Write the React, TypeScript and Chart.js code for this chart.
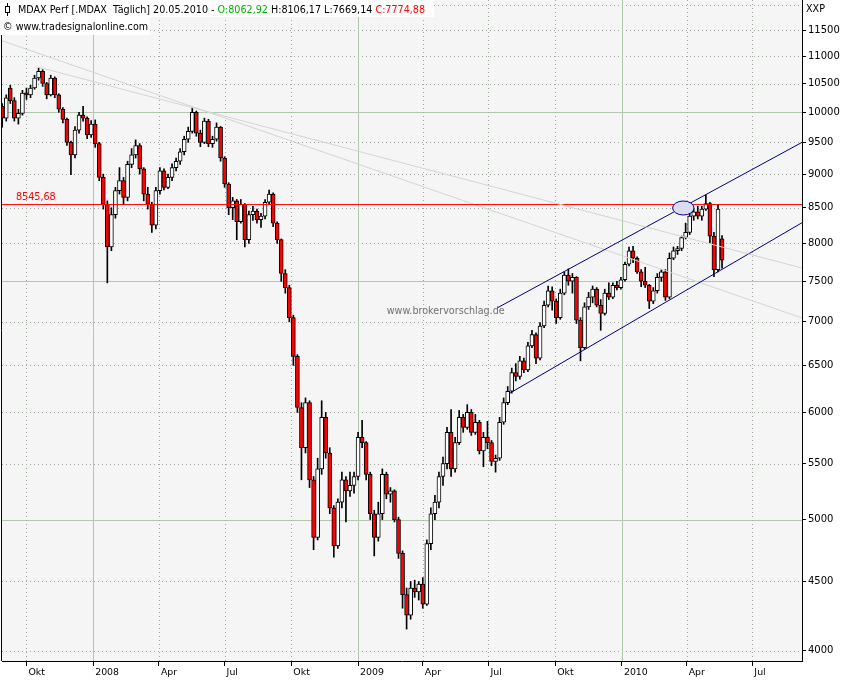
import React, { useEffect, useRef } from 'react';
import { Chart, registerables } from 'chart.js';

Chart.register(...registerables);

// ---------- calendar helpers (weekday index, 0 = Mon 2007-08-27) ----------
const FIRST_WEEKDAY_UTC = Date.UTC(2007, 7, 27);
function dayIndex(date: string): number {
  const [y, m, d] = date.split('-').map(Number);
  const days = Math.round((Date.UTC(y, m - 1, d) - FIRST_WEEKDAY_UTC) / 86400000);
  const weeks = Math.floor(days / 7);
  const rem = days - weeks * 7;
  return weeks * 5 + Math.min(rem, 5);
}

// ---------- data ----------
const CANDLE_START = '2007-08-28';
const DAYS_PER_CANDLE = 4;
const LAST_DATE = '20.05.2010';

const OPEN = [
  10100, 9900, 10420, 10200, 9900, 9980, 10330, 10300, 10420, 10600,
  10720, 10500, 10300, 10600, 10300, 10050, 9880, 9500, 9300, 9700,
  9950, 9900, 9620, 9800, 9480, 8950, 8550, 7950, 8400, 8750,
  8900, 8650, 9150, 9300, 9450, 9080, 8700, 8550, 8250, 8750,
  9050, 8800, 8950, 9100, 9200, 9350, 9550, 9680, 10000, 9650,
  9500, 9850, 9480, 9550, 9750, 9250, 8850, 8500, 8600, 8300,
  8550, 8050, 8400, 8450, 8330, 8380, 8580, 8700, 8280, 8050,
  7600, 7420, 7050, 6600, 6050, 5650, 6100, 5350, 4850, 5450,
  5950, 5600, 5100, 4780, 5150, 5350, 5250, 5300, 5380, 5750,
  5700, 5400, 5050, 4850, 5050, 5400, 5220, 5250, 5000, 4720,
  4400, 4250, 4450, 4420, 4480, 4330, 4800, 5050, 5150, 5380,
  5500, 5800, 5450, 5700, 5950, 5850, 6000, 5800, 5900, 5620,
  5750, 5700, 5520, 5550, 5900, 6100, 6220, 6420, 6380, 6550,
  6450, 6720, 6850, 6580, 6950, 7200, 7380, 7250, 7050, 7350,
  7580, 7500, 7550, 7020, 6700, 7180, 7300, 7400, 7200, 7100,
  7350, 7300, 7450, 7420, 7520, 7720, 7900, 7800, 7620, 7500,
  7450, 7250, 7380, 7550, 7620, 7300, 7800, 7900, 7930, 8080,
  8150, 8380, 8440, 8380, 8480, 8560, 8100, 7650, 8062.92,
];
const HIGH = [
  10150, 10300, 10470, 10250, 10050, 10380, 10420, 10470, 10650, 10780,
  10750, 10520, 10650, 10620, 10320, 10080, 9900, 9520, 9760, 10000,
  10100, 9920, 9860, 9870, 9500, 9000, 8600, 8500, 8800, 9100,
  8950, 9200, 9400, 9540, 9480, 9100, 8800, 8580, 8800, 9100,
  9080, 9000, 9160, 9250, 9400, 9600, 9750, 10070, 10020, 9700,
  9900, 9880, 9600, 9820, 9760, 9270, 8870, 8650, 8620, 8620,
  8560, 8450, 8520, 8480, 8420, 8620, 8760, 8720, 8300, 8060,
  7650, 7450, 7080, 6620, 6100, 6150, 6120, 5380, 5550, 6120,
  6000, 5650, 5120, 5180, 5420, 5380, 5420, 5420, 5800, 5920,
  5710, 5420, 5080, 5150, 5450, 5420, 5280, 5260, 5020, 4740,
  4450, 4500, 4510, 4500, 4530, 4830, 5100, 5210, 5420, 5560,
  5850, 6030, 5750, 6020, 5980, 6080, 6030, 5980, 5920, 5800,
  5910, 5720, 5580, 5950, 6150, 6270, 6470, 6520, 6600, 6580,
  6760, 6900, 6870, 6990, 7250, 7440, 7430, 7280, 7400, 7620,
  7660, 7600, 7560, 7050, 7230, 7360, 7440, 7420, 7270, 7400,
  7480, 7480, 7500, 7550, 7750, 7950, 7960, 7820, 7650, 7680,
  7460, 7420, 7600, 7650, 7650, 7870, 7950, 7960, 8100, 8280,
  8420, 8480, 8520, 8520, 8690, 8580, 8150, 8550, 8106.17,
];
const LOW = [
  9750, 9850, 10150, 9850, 9800, 9950, 10220, 10250, 10400, 10560,
  10450, 10230, 10280, 10250, 10000, 9820, 9450, 8990, 9250, 9650,
  9850, 9560, 9580, 9420, 8900, 8480, 7480, 7900, 8350, 8700,
  8550, 8600, 9100, 9250, 9000, 8600, 8480, 8150, 8200, 8700,
  8760, 8780, 8900, 9050, 9150, 9300, 9500, 9650, 9600, 9430,
  9480, 9430, 9420, 9520, 9200, 8800, 8400, 8330, 8050, 8280,
  7950, 8000, 8320, 8280, 8220, 8340, 8550, 8230, 8000, 7500,
  7350, 7000, 6500, 6000, 5350, 5600, 5280, 4750, 4830, 5400,
  5550, 5050, 4690, 4760, 5100, 4980, 5200, 5230, 5350, 5650,
  5350, 5000, 4700, 4820, 5000, 5180, 5150, 4980, 4680, 4300,
  4150, 4220, 4380, 4360, 4300, 4320, 4750, 5000, 5100, 5300,
  5450, 5380, 5420, 5680, 5800, 5830, 5770, 5780, 5590, 5470,
  5640, 5480, 5420, 5530, 5880, 6080, 6200, 6330, 6350, 6420,
  6430, 6700, 6520, 6560, 6930, 7180, 7140, 6980, 7030, 7330,
  7450, 7350, 6980, 6550, 6680, 7150, 7230, 7180, 6900, 7080,
  7270, 7280, 7390, 7400, 7500, 7700, 7740, 7600, 7430, 7420,
  7160, 7220, 7350, 7500, 7260, 7280, 7780, 7850, 7900, 8060,
  8120, 8320, 8340, 8320, 8460, 8010, 7560, 7620, 7669.14,
];
const CLOSE = [
  9900, 10250, 10200, 9900, 9980, 10330, 10300, 10420, 10600, 10720,
  10500, 10300, 10600, 10300, 10050, 9880, 9500, 9300, 9700, 9950,
  9900, 9620, 9800, 9480, 8950, 8550, 7950, 8400, 8750, 8900,
  8650, 9150, 9300, 9450, 9080, 8700, 8550, 8250, 8750, 9050,
  8800, 8950, 9100, 9200, 9350, 9550, 9680, 10000, 9650, 9500,
  9850, 9480, 9550, 9750, 9250, 8850, 8500, 8600, 8300, 8550,
  8050, 8400, 8450, 8330, 8380, 8580, 8700, 8280, 8050, 7600,
  7420, 7050, 6600, 6050, 5650, 6100, 5350, 4850, 5450, 5950,
  5600, 5100, 4780, 5150, 5350, 5250, 5300, 5380, 5750, 5700,
  5400, 5050, 4850, 5050, 5400, 5220, 5250, 5000, 4720, 4400,
  4250, 4450, 4420, 4480, 4330, 4800, 5050, 5150, 5380, 5500,
  5800, 5450, 5700, 5950, 5850, 6000, 5800, 5900, 5620, 5750,
  5700, 5520, 5550, 5900, 6100, 6220, 6420, 6380, 6550, 6450,
  6720, 6850, 6580, 6950, 7200, 7380, 7250, 7050, 7350, 7580,
  7500, 7550, 7020, 6700, 7180, 7300, 7400, 7200, 7100, 7350,
  7300, 7450, 7420, 7520, 7720, 7900, 7800, 7620, 7500, 7450,
  7250, 7380, 7550, 7620, 7300, 7800, 7900, 7930, 8080, 8150,
  8380, 8440, 8380, 8480, 8560, 8100, 7650, 8480, 7774.88,
];

const X_TICK_DATES = [
  '2007-10-01', '2008-01-01', '2008-04-01', '2008-07-01', '2008-10-01', '2009-01-01',
  '2009-04-01', '2009-07-01', '2009-10-01', '2010-01-01', '2010-04-01', '2010-07-01',
];
const X_TICK_LABELS = ['Okt', '2008', 'Apr', 'Jul', 'Okt', '2009', 'Apr', 'Jul', 'Okt', '2010', 'Apr', 'Jul'];
const X_YEAR_LABELS = ['2008', '2009', '2010'];

const Y_TICKS = [4000, 4500, 5000, 5500, 6000, 6500, 7000, 7500, 8000, 8500, 9000, 9500, 10000, 10500, 11000, 11500];
const Y_GRID = [4000, 4500, 5000, 5500, 6000, 6500, 7000, 7500, 8000, 8500, 9000, 9500, 10000, 10500, 11000, 11500, 12000];
const Y_MAJOR = [5000, 7500, 10000];

// axis range (weekday index / price)
const X_MIN = 0.8;
const X_MAX = 792.1;
const Y_MIN = 3930.5;
const Y_MAX = 12104;

// drawn studies
const RESISTANCE = 8545.68;
const CHANNEL_UPPER_X = [490.4, X_MAX];
const CHANNEL_UPPER_Y = [7166, 9500];
const CHANNEL_LOWER_X = [503.3, X_MAX];
const CHANNEL_LOWER_Y = [6201, 8286];
const TREND_PEAK_X = [36.4, X_MAX];
const TREND_PEAK_Y = [10799, 7671];
const TREND_LONG_X = [-1.2, X_MAX];
const TREND_LONG_Y = [11307, 7046];
const ELLIPSE_X = 674.7;
const ELLIPSE_Y = 8496;
const WATERMARK_X = 381.3;
const WATERMARK_Y = 7130;

const FONT = '"DejaVu Sans", Verdana, sans-serif';
const fmt = (v: number) => v.toFixed(2).replace('.', ',');

const pts = (xs: number[], ys: number[]) => xs.map((x, i) => ({ x, y: ys[i] }));

export default function App() {
  const ref = useRef<HTMLCanvasElement | null>(null);

  useEffect(() => {
    const canvas = ref.current;
    if (!canvas) return;
    const start = dayIndex(CANDLE_START);
    const xs = CLOSE.map((_, i) => start + i * DAYS_PER_CANDLE);
    const bodies = xs.map((x, i) => ({ x, y: [OPEN[i], CLOSE[i]] }));
    const wicks = xs.map((x, i) => ({ x, y: [LOW[i], HIGH[i]] }));
    const bodyColors = xs.map((_, i) => (CLOSE[i] >= OPEN[i] ? '#ffffff' : '#ff0000'));
    const tickIdx = X_TICK_DATES.map(dayIndex);

    const decor = {
      id: 'decor',
      beforeDraw(chart: any) {
        const { ctx, chartArea: a } = chart;
        ctx.save();
        ctx.fillStyle = '#f5f5f5';
        ctx.fillRect(a.left, a.top, a.right - a.left, a.bottom - a.top);
        ctx.restore();
      },
      beforeDatasetsDraw(chart: any) {
        const { ctx, chartArea: a, scales } = chart;
        const x = scales.x, y = scales.y;
        ctx.save();
        ctx.lineWidth = 1;
        Y_GRID.forEach((v) => {
          const py = Math.round(y.getPixelForValue(v)) + 0.5;
          if (Y_MAJOR.includes(v)) {
            ctx.setLineDash([]);
            ctx.strokeStyle = '#b2c8ae';
          } else {
            ctx.setLineDash([1, 3]);
            ctx.strokeStyle = '#9eaa9e';
          }
          ctx.beginPath();
          ctx.moveTo(a.left, py);
          ctx.lineTo(a.right, py);
          ctx.stroke();
        });
        tickIdx.forEach((v, i) => {
          const px = Math.round(x.getPixelForValue(v)) + 0.5;
          if (X_YEAR_LABELS.includes(X_TICK_LABELS[i])) {
            ctx.setLineDash([]);
            ctx.strokeStyle = '#b2c8ae';
          } else {
            ctx.setLineDash([1, 3]);
            ctx.strokeStyle = '#9eaa9e';
          }
          ctx.beginPath();
          ctx.moveTo(px, a.top);
          ctx.lineTo(px, a.bottom);
          ctx.stroke();
        });
        ctx.setLineDash([]);
        ctx.strokeStyle = '#000';
        ctx.beginPath();
        ctx.moveTo(a.left - 0.5, a.top);
        ctx.lineTo(a.left - 0.5, a.bottom);
        ctx.stroke();
        ctx.restore();
      },
      afterDatasetsDraw(chart: any) {
        const { ctx, scales } = chart;
        const x = scales.x, y = scales.y;
        ctx.save();
        // ellipse marker
        const ex = x.getPixelForValue(ELLIPSE_X);
        const ey = y.getPixelForValue(ELLIPSE_Y);
        ctx.beginPath();
        ctx.ellipse(ex, ey, 10.7, 7, 0, 0, Math.PI * 2);
        ctx.fillStyle = '#dcdcf0';
        ctx.fill();
        ctx.strokeStyle = '#000080';
        ctx.lineWidth = 1;
        ctx.stroke();
        // resistance label
        ctx.font = `9.6px ${FONT}`;
        ctx.fillStyle = '#ff0000';
        ctx.textBaseline = 'bottom';
        ctx.textAlign = 'left';
        ctx.fillText(fmt(RESISTANCE), chart.chartArea.left + 14, y.getPixelForValue(RESISTANCE) - 2);
        // watermark
        ctx.fillStyle = '#707070';
        ctx.textBaseline = 'middle';
        ctx.fillText('www.brokervorschlag.de', x.getPixelForValue(WATERMARK_X), y.getPixelForValue(WATERMARK_Y));
        ctx.restore();
      },
    };

    const line = (data: any[], color: string, order: number) => ({
      type: 'line' as const,
      data,
      borderColor: color,
      borderWidth: 1,
      pointRadius: 0,
      fill: false,
      tension: 0,
      order,
    });

    const chart = new Chart(canvas, {
      type: 'bar',
      data: {
        datasets: [
          line(pts(TREND_PEAK_X, TREND_PEAK_Y), '#d4d4d4', -1) as any,
          line(pts(TREND_LONG_X, TREND_LONG_Y), '#d4d4d4', 0.5) as any,
          line(pts([X_MIN, X_MAX], [RESISTANCE, RESISTANCE]), '#ff0000', 0) as any,
          line(pts(CHANNEL_UPPER_X, CHANNEL_UPPER_Y), '#000080', 0) as any,
          line(pts(CHANNEL_LOWER_X, CHANNEL_LOWER_Y), '#000080', 0) as any,
          {
            type: 'bar',
            data: bodies as any,
            backgroundColor: bodyColors,
            borderColor: '#000000',
            borderWidth: 1,
            borderSkipped: false,
            barThickness: 4,
            minBarLength: 2,
            grouped: false,
            order: 1,
          } as any,
          {
            type: 'bar',
            data: wicks as any,
            backgroundColor: '#000000',
            borderWidth: 0,
            barThickness: 1,
            grouped: false,
            order: 2,
          } as any,
        ],
      },
      options: {
        animation: false,
        responsive: false,
        devicePixelRatio: 1,
        layout: { padding: { left: 2, top: 0, right: 0, bottom: 0 } },
        plugins: { legend: { display: false }, tooltip: { enabled: false } },
        scales: {
          x: {
            type: 'linear',
            position: 'bottom',
            min: X_MIN,
            max: X_MAX,
            bounds: 'data',
            offset: false,
            grid: { drawOnChartArea: false, drawTicks: true, tickLength: 5, tickColor: '#000', offset: false },
            border: { display: true, color: '#000' },
            ticks: {
              autoSkip: false,
              maxRotation: 0,
              minRotation: 0,
              align: 'start',
              labelOffset: 2,
              padding: 1,
              color: '#000',
              font: { family: FONT, size: 9.4 },
              callback: (_v: any, i: number) => X_TICK_LABELS[i],
            },
            afterBuildTicks: (s: any) => {
              s.ticks = tickIdx.map((v) => ({ value: v }));
            },
            afterFit: (s: any) => {
              s.height = 19;
              s.paddingLeft = 0;
              s.paddingRight = 0;
            },
          } as any,
          y: {
            type: 'logarithmic',
            position: 'right',
            min: Y_MIN,
            max: Y_MAX,
            bounds: 'data',
            grid: { drawOnChartArea: false, drawTicks: true, tickLength: 4, tickColor: '#000' },
            border: { display: true, color: '#000' },
            ticks: {
              autoSkip: false,
              padding: 2,
              color: '#000',
              font: { family: FONT, size: 10 },
              callback: (v: any) => String(v),
            },
            afterBuildTicks: (s: any) => {
              s.ticks = Y_TICKS.map((v) => ({ value: v }));
            },
            afterFit: (s: any) => {
              s.width = 48;
              s.paddingTop = 0;
              s.paddingBottom = 0;
            },
          } as any,
        },
      },
      plugins: [decor],
    });
    return () => chart.destroy();
  }, []);

  const last = CLOSE.length - 1;
  const textStyle: React.CSSProperties = {
    position: 'absolute',
    font: `9.6px ${FONT}`,
    lineHeight: '14px',
    whiteSpace: 'pre',
    color: '#000',
  };

  return (
    <div style={{ position: 'absolute', left: 0, top: 0, width: 850, height: 680, background: '#ffffff' }}>
      <canvas ref={ref} width={850} height={680} style={{ position: 'absolute', left: 0, top: 0, width: 850, height: 680 }} />
      <div style={{ position: 'absolute', left: 0, top: 0, width: 434, height: 17, background: '#ffffff' }} />
      <div style={{ position: 'absolute', left: 0, top: 17, width: 150, height: 18, background: '#ffffff' }} />
      <div style={{ position: 'absolute', left: 7, top: 3, width: 1, height: 13, background: '#000' }} />
      <div style={{ position: 'absolute', left: 5, top: 6, width: 3, height: 5, background: '#fff', border: '1px solid #000' }} />
      <div style={{ ...textStyle, left: 18, top: 3 }}>
        {`MDAX Perf [.MDAX  Täglich] ${LAST_DATE} - `}
        <span style={{ color: '#00b000' }}>{`O:${fmt(OPEN[last])}`}</span>
        {` H:${fmt(HIGH[last])} L:${fmt(LOW[last])} `}
        <span style={{ color: '#ff0000' }}>{`C:${fmt(CLOSE[last])}`}</span>
      </div>
      <div style={{ ...textStyle, left: 3, top: 20 }}>© www.tradesignalonline.com</div>
      <div style={{ ...textStyle, left: 806, top: 2 }}>XXP</div>
    </div>
  );
}
